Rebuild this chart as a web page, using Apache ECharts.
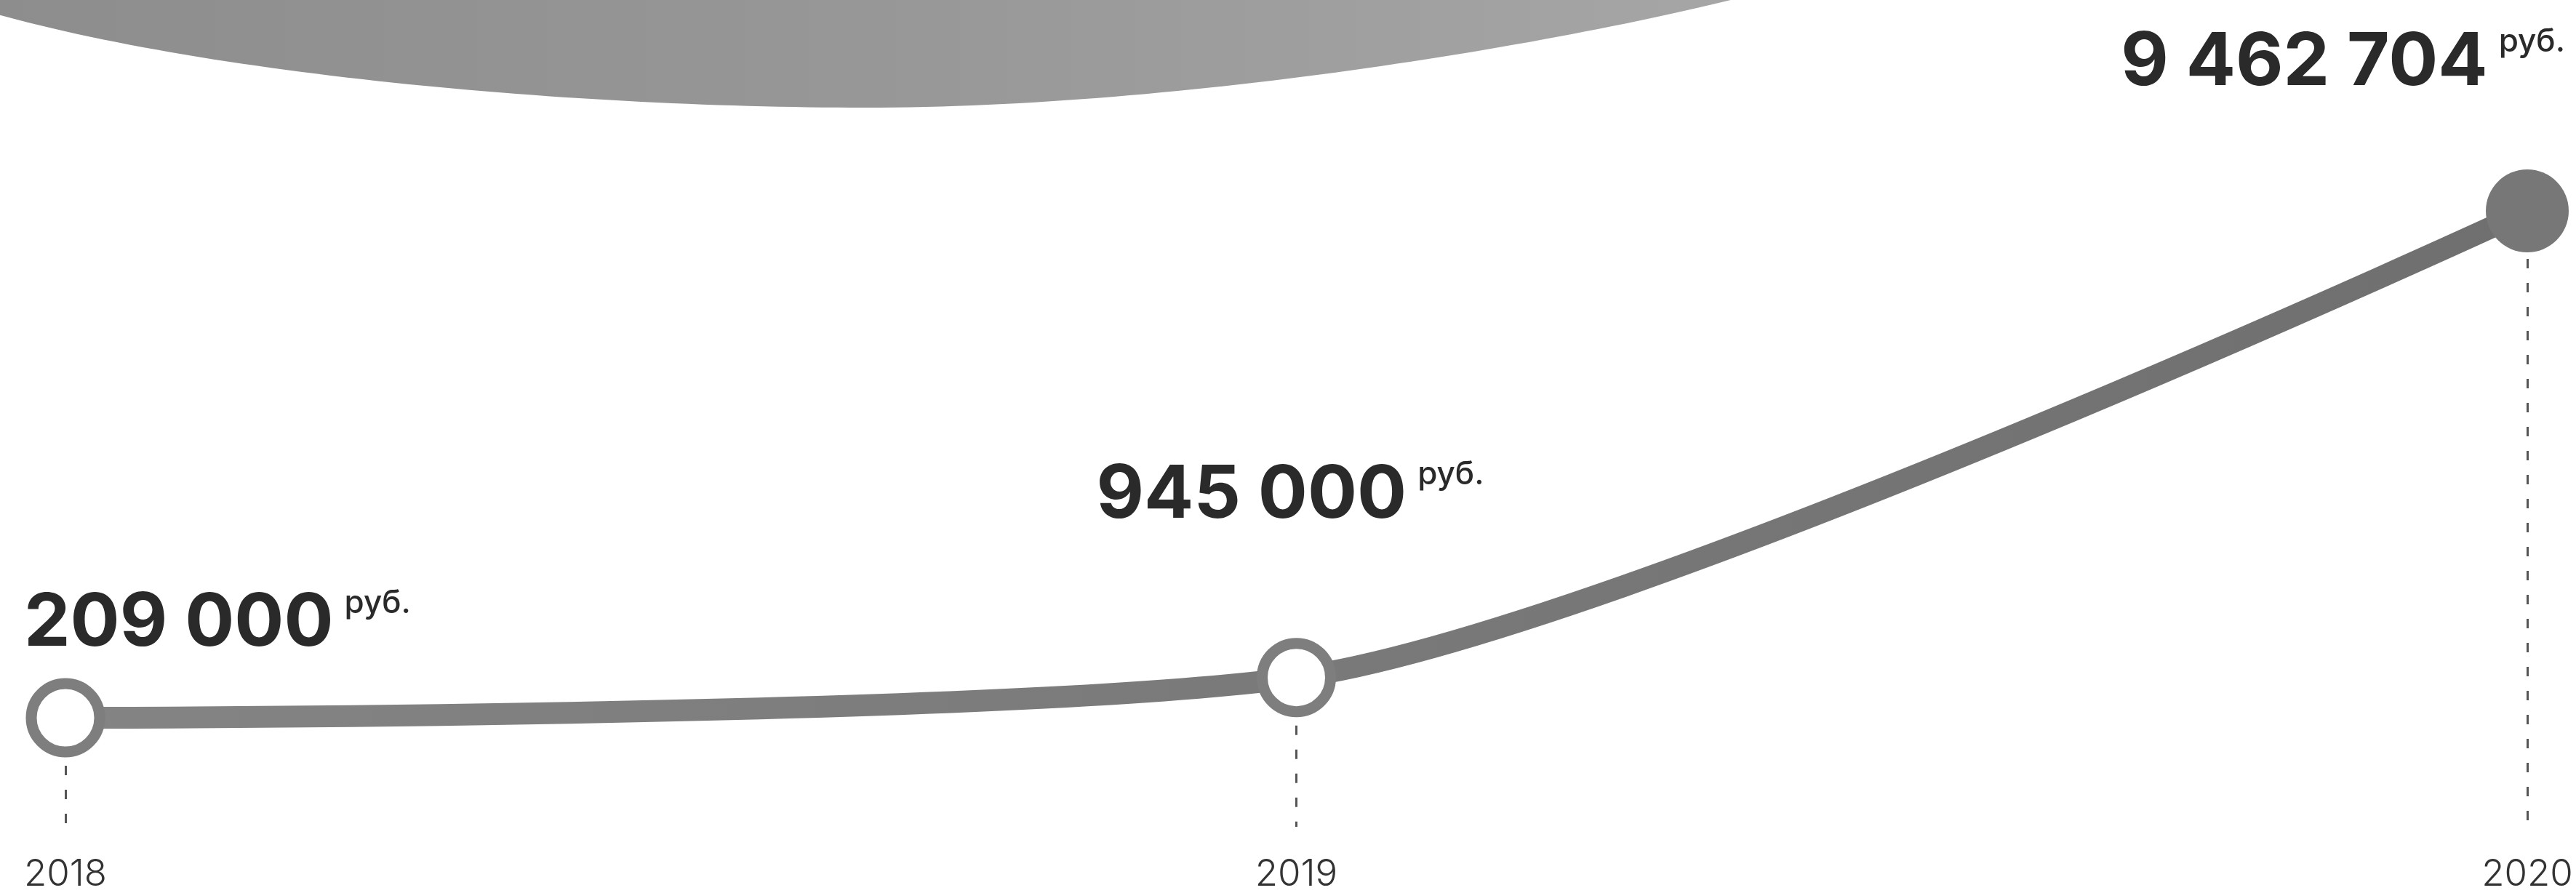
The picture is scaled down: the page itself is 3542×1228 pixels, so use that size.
<!DOCTYPE html>
<html>
<head>
<meta charset="utf-8">
<script src="https://cdn.jsdelivr.net/npm/echarts@6/dist/echarts.min.js"></script>
<style>
  html, body { margin: 0; padding: 0; background: #ffffff; }
  #chart { width: 3542px; height: 1228px; }
</style>
</head>
<body>
<div id="chart"></div>
<script>
// ---- data ----
const years = ['2018', '2019', '2020'];
const amounts = [209000, 945000, 9462704];
const unitLabel = 'руб.';

function fmt(v) {
  return String(v).replace(/\B(?=(\d{3})+(?!\d))/g, ' ');
}

const chart = echarts.init(document.getElementById('chart'), null, { renderer: 'canvas' });

const FONT = 'Inter, "Noto Sans", sans-serif';
const richStyle = {
  v: { fontFamily: FONT, fontWeight: 700, fontSize: 101, lineHeight: 101, color: '#2a2a2a' },
  u: { fontFamily: FONT, fontWeight: 500, fontSize: 44, lineHeight: 44, color: '#2a2a2a', verticalAlign: 'top', padding: [0, 0, 0, 15] }
};

// per-point label placement (style only)
const labelPlacement = [
  { align: 'left', offset: [-57, -24] },
  { align: 'left', offset: [-275, -145] },
  { align: 'right', offset: [52, -96] }
];

const openPoint = { symbolSize: 94, itemStyle: { color: '#ffffff', borderColor: '#7e7e7e', borderWidth: 15 } };
const fullPoint = { symbolSize: 114, itemStyle: { color: '#777777', borderWidth: 0 } };

const mainData = amounts.map((v, i) => {
  const p = i === amounts.length - 1 ? fullPoint : openPoint;
  return {
    value: v,
    symbol: 'circle',
    symbolSize: p.symbolSize,
    itemStyle: p.itemStyle,
    label: {
      show: true,
      position: 'top',
      distance: 0,
      align: labelPlacement[i].align,
      offset: labelPlacement[i].offset,
      formatter: '{v|' + fmt(v) + '}{u|' + unitLabel + '}',
      rich: richStyle
    }
  };
});

const yMin = -1781000;
const yMax = 13312000;

function hGrad(stops) {
  return { type: 'linear', x: 0, y: 0, x2: 1, y2: 0, colorStops: stops };
}

// decorative blob outline (two cubic curves), sampled into a polygon
function cubicPts(p0, p1, p2, p3, n) {
  const pts = [];
  for (let k = 0; k <= n; k++) {
    const t = k / n, s = 1 - t;
    pts.push([
      s * s * s * p0[0] + 3 * s * s * t * p1[0] + 3 * s * t * t * p2[0] + t * t * t * p3[0],
      s * s * s * p0[1] + 3 * s * s * t * p1[1] + 3 * s * t * t * p2[1] + t * t * t * p3[1]
    ]);
  }
  return pts;
}
const blobPts = [[-10, -10]]
  .concat(cubicPts([-10, 18], [300, 105], [800, 148], [1190, 148], 60))
  .concat(cubicPts([1190, 148], [1600, 148], [2100, 70], [2400, -5], 60).slice(1))
  .concat([[2400, -10]]);

const option = {
  backgroundColor: '#ffffff',
  animation: false,
  graphic: [{
    type: 'polygon',
    z: -10,
    silent: true,
    shape: { points: blobPts },
    style: {
      fill: hGrad([
        { offset: 0, color: '#8d8d8d' },
        { offset: 0.5, color: '#979797' },
        { offset: 1, color: '#a6a6a6' }
      ])
    }
  }],
  grid: { left: 90, right: 67, top: 0, bottom: 83, containLabel: false },
  xAxis: {
    type: 'category',
    data: years,
    boundaryGap: false,
    axisLine: { show: false },
    axisTick: { show: false },
    splitLine: { show: false },
    axisLabel: {
      interval: 0,
      margin: 40,
      fontFamily: FONT,
      fontWeight: 300,
      fontSize: 51,
      color: '#333333'
    }
  },
  yAxis: {
    type: 'value',
    min: yMin,
    max: yMax,
    show: false,
    splitLine: { show: false }
  },
  series: [
    {
      name: 'guides',
      type: 'line',
      z: 1,
      data: amounts,
      symbol: 'none',
      lineStyle: { opacity: 0 },
      silent: true,
      markLine: {
        z: 1,
        silent: true,
        symbol: ['none', 'none'],
        label: { show: false },
        lineStyle: { color: '#555555', width: 3, type: [13, 20] },
        data: years.map((y, i) => [
          { coord: [y, amounts[i]] },
          { coord: [y, yMin] }
        ])
      }
    },
    {
      name: 'amount',
      type: 'line',
      z: 3,
      smooth: 0.25,
      data: mainData,
      lineStyle: {
        width: 30,
        color: hGrad([
          { offset: 0, color: '#848484' },
          { offset: 1, color: '#6f6f6f' }
        ])
      }
    }
  ]
};

chart.setOption(option);
</script>
</body>
</html>
